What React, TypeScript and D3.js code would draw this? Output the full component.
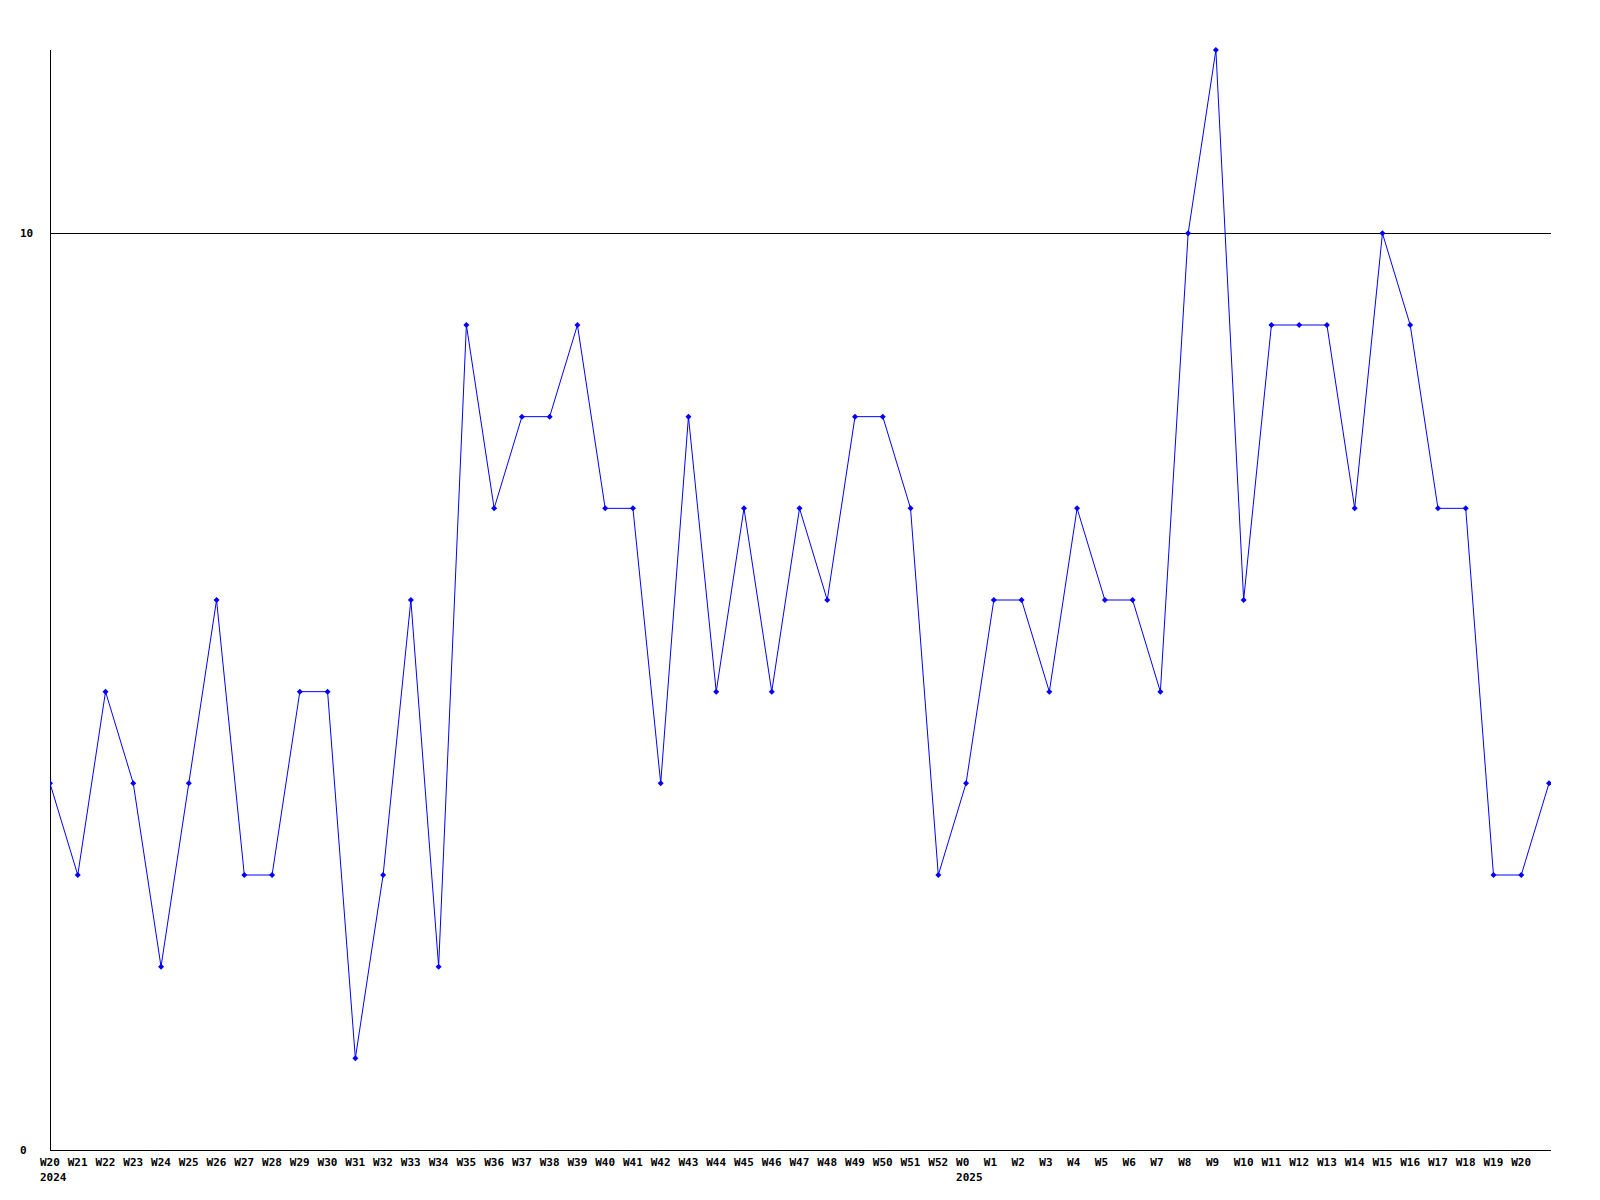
import React from "react";
import * as d3 from "d3";

const weekLabels = [
  "W20","W21","W22","W23","W24","W25","W26","W27","W28","W29","W30","W31","W32","W33","W34","W35","W36","W37","W38","W39","W40","W41","W42","W43","W44","W45","W46","W47","W48","W49","W50","W51","W52",
  "W0","W1","W2","W3","W4","W5","W6","W7","W8","W9","W10","W11","W12","W13","W14","W15","W16","W17","W18","W19","W20","",
];
const values = [
  4,3,5,4,2,4,6,3,3,5,5,1,3,6,2,9,7,8,8,9,7,7,4,8,5,7,5,7,6,8,8,7,3,
  4,6,6,5,7,6,6,5,10,12,6,9,9,9,7,10,9,7,7,3,3,4,
];
const yearLabels = [
  { index: 0, label: "2024" },
  { index: 33, label: "2025" },
];
const yTicks = [0, 10];

export default function App() {
  const width = 1600;
  const height = 1200;
  const left = 50, right = 1549, top = 50, bottom = 1150;
  const x = d3.scaleLinear().domain([0, values.length - 1]).range([left, right]);
  const y = d3.scaleLinear().domain([0, 12]).range([bottom, top]);
  const line = d3.line<number>().x((_, i) => x(i)).y((d) => y(d));
  const font = "'DejaVu Sans Mono', monospace";
  return (
    <svg width={width} height={height} style={{ position: "absolute", left: 0, top: 0, background: "#fff" }}>
      <defs>
        <clipPath id="plot">
          <rect x={left} y={0} width={right - left + 2} height={bottom + 1} />
        </clipPath>
      </defs>
      <rect x={0} y={0} width={width} height={height} fill="#fff" />
      {yTicks.map((t) => (
        <g key={t}>
          <line x1={left} x2={right + 2} y1={Math.round(y(t)) + 0.5} y2={Math.round(y(t)) + 0.5} stroke="#000" strokeWidth={1} />
          <text x={20} y={y(t) + 4} fontFamily={font} fontWeight="bold" fontSize={11} fill="#000">{t}</text>
        </g>
      ))}
      <line x1={left + 0.5} x2={left + 0.5} y1={top} y2={bottom} stroke="#000" strokeWidth={1} />
      <g clipPath="url(#plot)">
        <path d={line(values) || ""} fill="none" stroke="#0000ff" strokeWidth={1} />
        {values.map((v, i) => (
          <path
            key={i}
            d={`M${x(i)},${y(v) - 3}L${x(i) + 3},${y(v)}L${x(i)},${y(v) + 3}L${x(i) - 3},${y(v)}Z`}
            fill="#0000ff"
          />
        ))}
      </g>
      {weekLabels.map((l, i) =>
        l ? (
          <text key={i} x={x(i) - 10} y={1166} fontFamily={font} fontWeight="bold" fontSize={11} fill="#000">{l}</text>
        ) : null
      )}
      {yearLabels.map((yl) => (
        <text key={yl.label} x={x(yl.index) - 10} y={1181} fontFamily={font} fontWeight="bold" fontSize={11} fill="#000">{yl.label}</text>
      ))}
    </svg>
  );
}
